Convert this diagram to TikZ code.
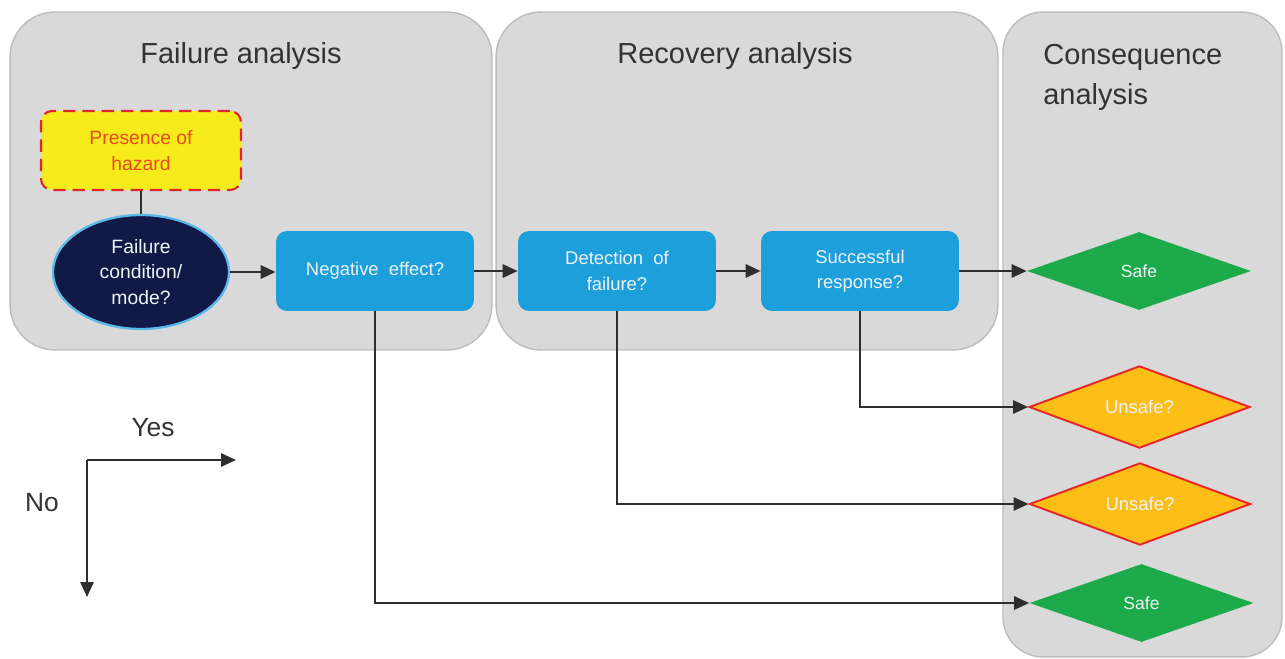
\documentclass[tikz,border=0pt]{standalone}
\usepackage{fontspec}
\setmainfont{Liberation Sans}
\usetikzlibrary{arrows.meta,shapes.geometric}

\definecolor{panelfill}{HTML}{D9D9D9}
\definecolor{paneledge}{HTML}{BDBDBD}
\definecolor{boxblue}{HTML}{1C9FDB}
\definecolor{navy}{HTML}{111A46}
\definecolor{navyedge}{HTML}{5DB8EA}
\definecolor{hazfill}{HTML}{F6EC1C}
\definecolor{hazedge}{HTML}{E0262B}
\definecolor{haztext}{HTML}{EA4A1E}
\definecolor{safegreen}{HTML}{1DAA4B}
\definecolor{unsafefill}{HTML}{FDBE17}
\definecolor{unsafeedge}{HTML}{E6262B}
\definecolor{inktext}{HTML}{333333}
\definecolor{linecol}{HTML}{2E2E2E}
\definecolor{lighttext}{HTML}{EEF3F8}

\tikzset{
  panel/.style={draw=paneledge, line width=0.8pt, fill=panelfill, rounded corners=0.9cm, inner sep=0pt},
  paneltitle/.style={text=inktext, font=\fontsize{16.5}{22.5}\selectfont},
  stepbox/.style={fill=boxblue, rounded corners=0.22cm, minimum width=3.96cm, minimum height=1.6cm,
    inner sep=0pt, text=lighttext, align=center, font=\fontsize{10.5}{14.5}\selectfont},
  hazbox/.style={fill=hazfill, draw=hazedge, dash pattern=on 7pt off 4pt, line width=1.2pt,
    rounded corners=0.22cm, minimum width=4cm, minimum height=1.58cm, inner sep=0pt,
    text=haztext, align=center, font=\fontsize{11}{14.7}\selectfont},
  modenode/.style={ellipse, fill=navy, draw=navyedge, line width=1.3pt, minimum width=3.52cm,
    minimum height=2.28cm, inner sep=0pt, text=lighttext, align=center, font=\fontsize{11}{14.5}\selectfont},
  safenode/.style={diamond, fill=safegreen, minimum width=4.48cm, minimum height=1.56cm, inner sep=0pt,
    text=lighttext, font=\fontsize{10}{12}\selectfont},
  unsafenode/.style={diamond, fill=unsafefill, draw=unsafeedge, line width=1.1pt, minimum width=4.42cm,
    minimum height=1.56cm, inner sep=0pt, text=lighttext, font=\fontsize{10.5}{12}\selectfont},
  conn/.style={draw=linecol, line width=1.25pt},
  arr/.style={conn, -{Triangle[length=8.5pt,width=7.5pt]}},
  legendtext/.style={text=inktext, font=\fontsize{15}{18}\selectfont},
}

\begin{document}
\begin{tikzpicture}[x=0.02cm, y=-0.02cm]
  \useasboundingbox[fill=white] (0,0) rectangle (1285,659);

  % analysis panels
  \node[panel, minimum width=9.64cm, minimum height=6.76cm] (fpanel) at (251,181) {};
  \node[panel, minimum width=10.04cm, minimum height=6.76cm] (rpanel) at (747,181) {};
  \node[panel, rounded corners=0.8cm, minimum width=5.58cm, minimum height=12.9cm] (cpanel) at (1142.5,334.5) {};

  \node[paneltitle, anchor=base] (ftitle) at (241,63) {Failure analysis};
  \node[paneltitle, anchor=base] (rtitle) at (735,63) {Recovery analysis};
  \node[paneltitle, anchor=north west, align=left, inner sep=0pt] (ctitle) at (1043,44)
    {Consequence\\analysis};

  % failure analysis
  \node[hazbox] (hazard) at (141,150.5) {Presence of\\hazard};
  \node[modenode] (mode) at (141,272) {Failure\\condition/\\mode?};
  \node[stepbox] (neg) at (375,271) {Negative\ \ effect?};

  % recovery analysis
  \node[stepbox] (detect) at (617,271) {Detection\ \ of\\failure?};
  \node[stepbox] (resp) at (860,271) {Successful\\response?};

  % outcomes
  \node[safenode] (safeA) at (1139,271) {Safe};
  \node[unsafenode] (unsafeA) at (1139.5,407) {Unsafe?};
  \node[unsafenode] (unsafeB) at (1140,504) {Unsafe?};
  \node[safenode] (safeB) at (1141.5,603) {Safe};

  % flow
  \draw[conn] (hazard.south) -- (mode.north);
  \draw[arr] (mode.east) -- (mode.east -| neg.west);
  \draw[arr] (neg.east) -- (detect.west);
  \draw[arr] (detect.east) -- (resp.west);
  \draw[arr] (resp.east) -- (safeA.west);
  \draw[arr] (resp.south) |- (unsafeA.west);
  \draw[arr] (detect.south) |- (unsafeB.west);
  \draw[arr] (neg.south) |- (safeB.west);

  % legend
  \coordinate (origin) at (87,460);
  \coordinate (yesend) at (236,460);
  \coordinate (noend) at (87,597);
  \draw[arr] (origin) -- (yesend);
  \draw[arr] (origin) -- (noend);
  \node[legendtext] (yes) at (153,428) {Yes};
  \node[legendtext] (no) at (42,503) {No};
\end{tikzpicture}
\end{document}
